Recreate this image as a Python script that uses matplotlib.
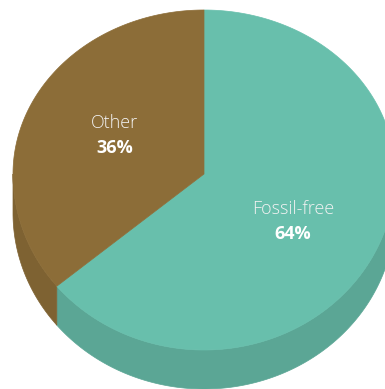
import matplotlib
matplotlib.use("Agg")
import matplotlib.pyplot as plt
import numpy as np
from matplotlib.patches import Polygon

# data
labels = ["Fossil-free", "Other"]
shares = [64, 36]
top_colors = ["#68bfac", "#8c6d38"]
side_colors = ["#5ba695", "#7e6232"]

# layout of the tilted pie, in pixels (far half looks flatter than near half)
cx, cy = 204, 174
rx = 191
ry_far, ry_near = 164, 176
depth = 39


def rim(t0, t1, drop=0, n=200):
    # angles measured clockwise from 12 o'clock, degrees
    t = np.radians(np.linspace(t0, t1, n))
    c = np.cos(t)
    ry = np.where(c > 0, ry_far, ry_near)
    return np.column_stack([cx + rx * np.sin(t), cy - ry * c + drop])


fig = plt.figure(figsize=(3.85, 3.89), dpi=100)
ax = fig.add_axes([0, 0, 1, 1])
ax.set_xlim(0, 385)
ax.set_ylim(389, 0)
ax.axis("off")

bounds = np.concatenate([[0], np.cumsum(shares) / sum(shares) * 360])

# side walls (only the front half, 90..270 deg, is visible)
for i in range(len(shares)):
    a0, a1 = max(bounds[i], 90), min(bounds[i + 1], 270)
    if a1 <= a0:
        continue
    up = rim(a0, a1)
    down = rim(a0, a1, depth)[::-1]
    ax.add_patch(Polygon(np.vstack([up, down]), closed=True,
                         fc=side_colors[i], ec=side_colors[i], lw=0.5))

# top faces
for i in range(len(shares)):
    pts = np.vstack([[cx, cy], rim(bounds[i], bounds[i + 1])])
    ax.add_patch(Polygon(pts, closed=True, fc=top_colors[i],
                         ec=top_colors[i], lw=0.5))

# labels
label_pos = [(293, 209), (115, 123)]
for lab, val, (x, y) in zip(labels, shares, label_pos):
    ax.text(x, y, lab, ha="center", va="center", color="#f2f2f2",
            fontsize=13, fontweight="light", family="Open Sans")
    ax.text(x, y + 25, f"{val}%", ha="center", va="center", color="white",
            fontsize=13, fontweight="bold", family="Open Sans")

fig.savefig("out.png", dpi=100)
